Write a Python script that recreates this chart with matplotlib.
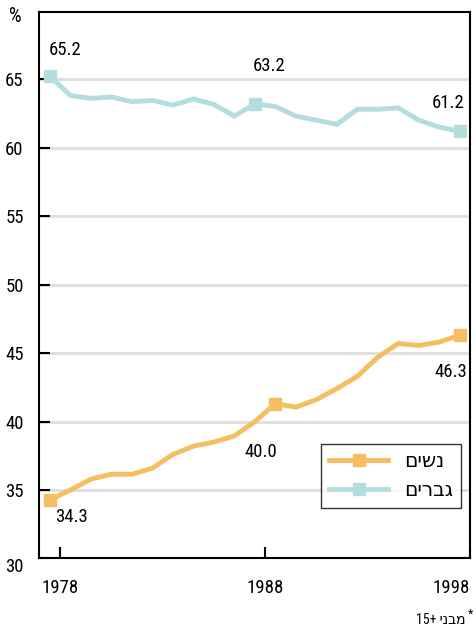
import matplotlib
matplotlib.use('Agg')
import matplotlib.pyplot as plt
from matplotlib import font_manager

years = list(range(1978, 1999))
women = [34.3, 35.0, 35.8, 36.15, 36.15, 36.6, 37.6, 38.2, 38.5, 38.95, 40.0,
         41.3, 41.05, 41.6, 42.4, 43.3, 44.7, 45.7, 45.55, 45.8, 46.3]
men = [65.2, 63.8, 63.6, 63.7, 63.35, 63.45, 63.1, 63.55, 63.15, 62.3, 63.2,
       63.0, 62.3, 62.0, 61.7, 62.8, 62.8, 62.9, 62.0, 61.5, 61.2]
women_label = 'נשים'
men_label = 'גברים'
footnote = 'מבני 15+'
yticks = [30, 35, 40, 45, 50, 55, 60, 65]
xtick_labels = ['1978', '1988', '1998']

# hebrew has to be reversed by hand, matplotlib has no bidi
def heb(s):
    return s[::-1]

# look for a narrow font, otherwise plain liberation
installed = set(f.name for f in font_manager.fontManager.ttflist)
font = 'Liberation Sans'
fs = 12
for cand in ['Liberation Sans Narrow', 'Roboto Condensed', 'Open Sans Condensed']:
    if cand in installed:
        font = cand
        fs = 13.5
        break
plt.rcParams['font.family'] = [font, 'DejaVu Sans']

orange = '#F6BE62'
teal = '#B4DEDD'

fig = plt.figure(figsize=(4.76, 6.33), dpi=100)
ax = fig.add_axes([0.0819, 0.1177, 0.9055, 0.8633])

for y in yticks[1:]:
    ax.axhline(y, color='#dedede', lw=2, zorder=0)

ax.plot(years, women, color=orange, lw=3.5, marker='s', markersize=8,
        markevery=[0, 11, 20], label=heb(women_label), solid_joinstyle='miter')
ax.plot(years, men, color=teal, lw=3.5, marker='s', markersize=8,
        markevery=[0, 10, 20], label=heb(men_label), solid_joinstyle='miter')

ax.set_xlim(1977.46, 1998.49)
ax.set_ylim(30, 69.9)

ax.set_yticks(yticks)
ax.set_yticklabels([str(y) for y in yticks], fontsize=fs)
ax.set_xticks([1978.5, 1988.5, 1998.5])
ax.set_xticklabels(xtick_labels, fontsize=fs)
ax.tick_params(axis='both', direction='in', length=8, width=1.5)
ax.tick_params(axis='y', pad=11)
ax.tick_params(axis='x', pad=15)
ax.get_xticklabels()[-1].set_ha('right')
ax.get_yticklabels()[0].set_va('top')

for s in ax.spines.values():
    s.set_linewidth(1.5)

ax.text(1977.95, 66.5, '65.2', fontsize=fs, ha='left', va='bottom')
ax.text(1987.9, 65.3, '63.2', fontsize=fs, ha='left', va='bottom')
ax.text(1998.24, 62.6, '61.2', fontsize=fs, ha='right', va='bottom')
ax.text(1978.25, 33.7, '34.3', fontsize=fs, ha='left', va='top')
ax.text(1988.3, 37.8, '40.0', fontsize=fs, ha='center', va='center')
ax.text(1998.34, 43.6, '46.3', fontsize=fs, ha='right', va='center')

leg = ax.legend(loc='lower right', bbox_to_anchor=(0.979, 0.092), fontsize=fs + 1,
                frameon=True, fancybox=False, handlelength=2.9, borderaxespad=0,
                markerfirst=True, borderpad=0.4, labelspacing=0.5)
leg.get_frame().set_edgecolor('black')
leg.get_frame().set_linewidth(1)

fig.text(15 / 476, 1 - 16 / 633, '%', fontsize=fs + 1, ha='center', va='center')
fig.text(466 / 476, 1 - 620 / 633, footnote[-3:] + ' ' + heb(footnote[:-4]),
         fontsize=10, ha='right', va='center')
fig.text(473 / 476, 1 - 614 / 633, '*', fontsize=9, ha='right', va='center')

plt.savefig('out.png', dpi=100)
